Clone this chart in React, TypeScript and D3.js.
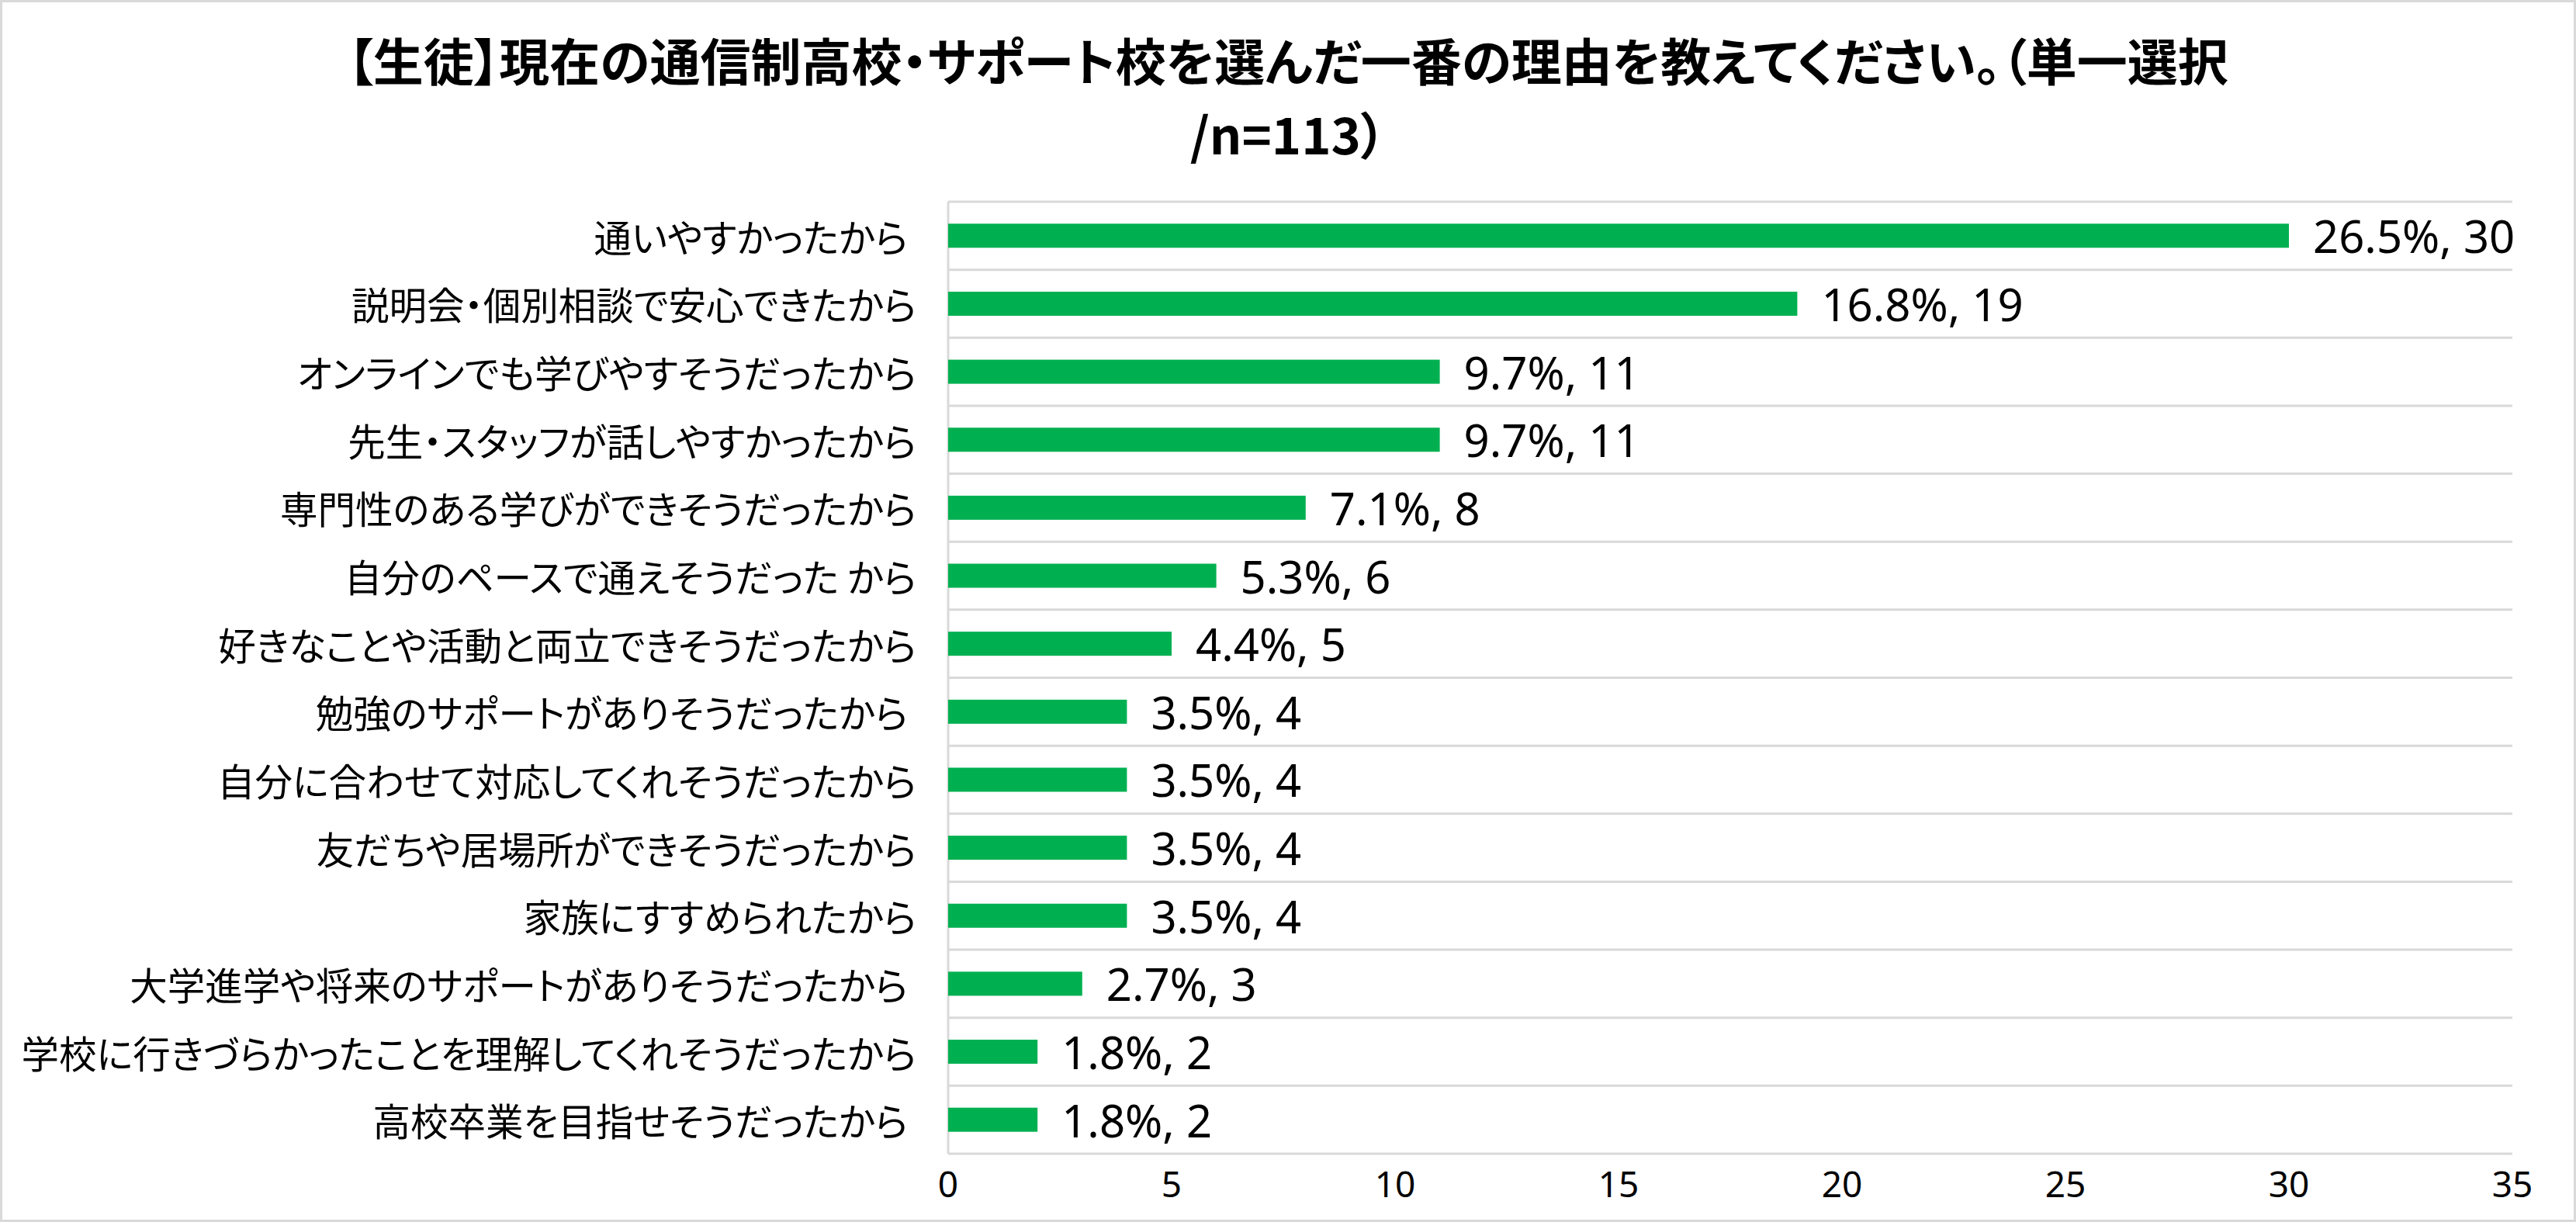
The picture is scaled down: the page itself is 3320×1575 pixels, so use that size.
import React from "react";
import * as d3 from "d3";

const categories = [
  "通いやすかったから ",
  "説明会・個別相談で安心できたから",
  "オンラインでも学びやすそうだったから",
  "先生・スタッフが話しやすかったから",
  "専門性のある学びができそうだったから",
  "自分のペースで通えそうだった から",
  "好きなことや活動と両立できそうだったから",
  "勉強のサポートがありそうだったから ",
  "自分に合わせて対応してくれそうだったから",
  "友だちや居場所ができそうだったから",
  "家族にすすめられたから",
  "大学進学や将来のサポートがありそうだったから ",
  "学校に行きづらかったことを理解してくれそうだったから",
  "高校卒業を目指せそうだったから ",
];
const counts = [30, 19, 11, 11, 8, 6, 5, 4, 4, 4, 4, 3, 2, 2];
const percents = [26.5, 16.8, 9.7, 9.7, 7.1, 5.3, 4.4, 3.5, 3.5, 3.5, 3.5, 2.7, 1.8, 1.8];
const xTicks = [0, 5, 10, 15, 20, 25, 30, 35];
const titleLines = [
  "【生徒】現在の通信制高校・サポート校を選んだ一番の理由を教えてください。（単一選択",
  "/n=113）",
];

const W = 3320;
const H = 1575;
const plot = { left: 1222, right: 3238, top: 260, bottom: 1487 };
const CJK = "'Noto Sans CJK JP', 'Noto Sans', sans-serif";
const LAT = "'Noto Sans', 'Noto Sans CJK JP', sans-serif";

export default function App() {
  const x = d3.scaleLinear().domain([0, 35]).range([plot.left, plot.right]);
  const y = d3
    .scaleBand<number>()
    .domain(d3.range(categories.length))
    .range([plot.top, plot.bottom])
    .paddingInner(0.646)
    .paddingOuter(0.323);
  const step = y.step();
  const gridYs = d3.range(categories.length + 1).map((i) => plot.top + i * step);

  return (
    <div style={{ position: "absolute", left: 0, top: 0 }}>
      <svg width={W} height={H} viewBox={`0 0 ${W} ${H}`} style={{ display: "block" }}>
        <rect x={0} y={0} width={W} height={H} fill="#ffffff" />
        <rect x={1.5} y={1.5} width={W - 3} height={H - 3} fill="none" stroke="#d9d9d9" strokeWidth={3} />
        <text
          textAnchor="middle"
          dominantBaseline="central"
          fontFamily={CJK}
          fontWeight={700}
          fontSize={65}
          fill="#000"
          style={{ fontFeatureSettings: '"palt"' }}
        >
          {titleLines.map((t, i) => (
            <tspan key={i} x={W / 2} y={i === 0 ? 76 : 171}>
              {t}
            </tspan>
          ))}
        </text>
        {gridYs.map((gy, i) => (
          <line key={i} x1={plot.left} x2={plot.right} y1={gy} y2={gy} stroke="#d9d9d9" strokeWidth={3} />
        ))}
        <line x1={plot.left} x2={plot.left} y1={plot.top} y2={plot.bottom} stroke="#d9d9d9" strokeWidth={3} />
        {counts.map((c, i) => (
          <rect
            key={i}
            x={x(0)}
            y={y(i)!}
            width={x(c) - x(0)}
            height={y.bandwidth()}
            fill="#00b050"
          />
        ))}
        {categories.map((c, i) => (
          <text
            key={i}
            x={1181}
            y={y(i)! + y.bandwidth() / 2}
            textAnchor="end"
            dominantBaseline="central"
            fontFamily={CJK}
            fontSize={48.5}
            fill="#000"
            style={{ whiteSpace: "pre", fontFeatureSettings: '"palt"' }}
          >
            {c}
          </text>
        ))}
        {counts.map((c, i) => (
          <text
            key={i}
            x={x(c) + 31}
            y={y(i)! + y.bandwidth() / 2}
            dominantBaseline="central"
            fontFamily={LAT}
            fontSize={58}
            fill="#000"
          >
            {`${percents[i].toFixed(1)}%, ${c}`}
          </text>
        ))}
        {xTicks.map((t) => (
          <text
            key={t}
            x={x(t)}
            y={1525}
            textAnchor="middle"
            dominantBaseline="central"
            fontFamily={LAT}
            fontSize={46}
            fill="#000"
          >
            {t}
          </text>
        ))}
      </svg>
    </div>
  );
}
